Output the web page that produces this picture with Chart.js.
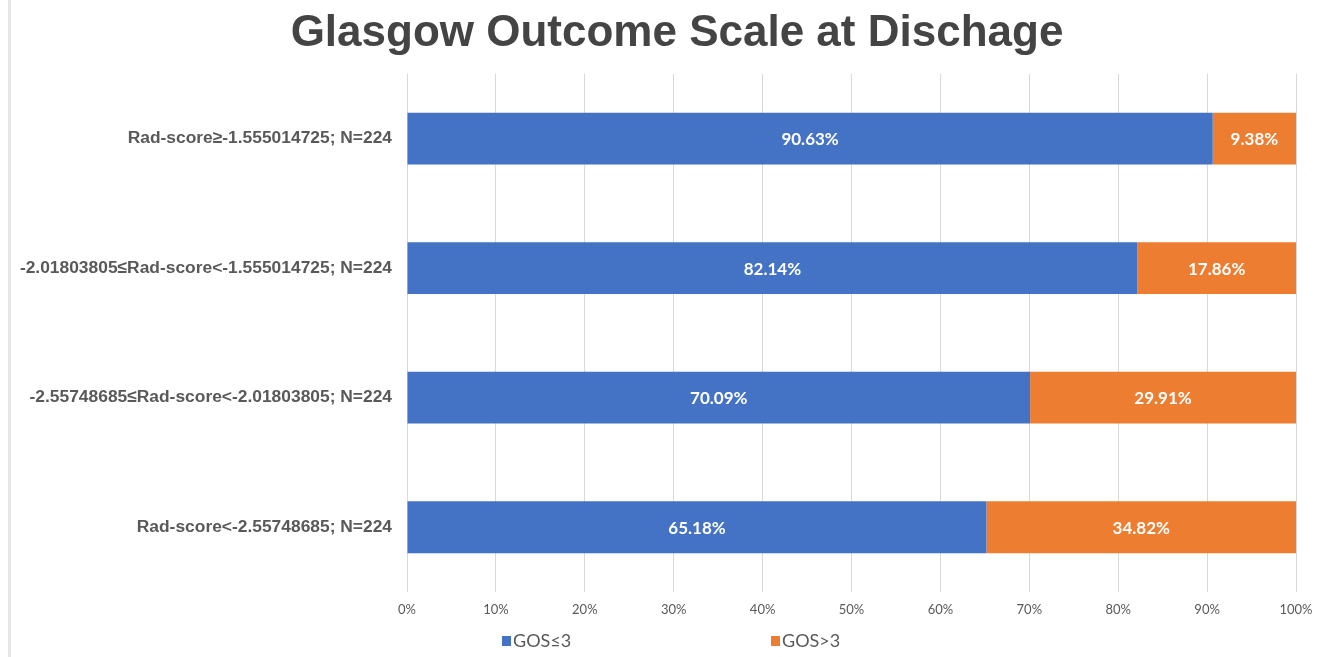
<!DOCTYPE html>
<html>
<head>
<meta charset="utf-8">
<script src="https://cdn.jsdelivr.net/npm/chart.js@4/dist/chart.umd.min.js"></script>
<style>
  html, body { margin: 0; padding: 0; background: #ffffff; }
  #wrap { width: 1325px; height: 657px; }
</style>
</head>
<body>
<div id="wrap"><canvas id="gos" width="1325" height="657"></canvas></div>
<script>
// Rad-score groups, listed top to bottom
const groups = [
  'Rad-score\u2265-1.555014725; N=224',
  '-2.01803805\u2264Rad-score<-1.555014725; N=224',
  '-2.55748685\u2264Rad-score<-2.01803805; N=224',
  'Rad-score<-2.55748685; N=224'
];
// share of patients (%) in each outcome class
const gosLow = [90.63, 82.14, 70.09, 65.18];
const gosHigh = [9.38, 17.86, 29.91, 34.82];
const seriesNames = ['GOS\u22643', 'GOS>3'];
const axisTicks = [0, 10, 20, 30, 40, 50, 60, 70, 80, 90, 100];

const BLUE = '#4472C4';
const ORANGE = '#ED7D31';

// thin frame on the left side of the chart
const frameLine = {
  id: 'frameLine',
  beforeDraw(chart) {
    const ctx = chart.ctx;
    ctx.save();
    ctx.fillStyle = '#e6e6e6';
    ctx.fillRect(8, 0, 3, chart.height);
    ctx.restore();
  }
};

// let the long category names use the space left of the axis box
const wideCategoryLabels = {
  id: 'wideCategoryLabels',
  afterLayout(chart) {
    chart.scales.y.left = 0;
  }
};

// percentage written inside each bar segment
const segmentLabels = {
  id: 'segmentLabels',
  afterDatasetsDraw(chart) {
    const ctx = chart.ctx;
    ctx.save();
    ctx.font = 'bold 17px Lato, "Open Sans", sans-serif';
    ctx.fillStyle = '#ffffff';
    ctx.textAlign = 'center';
    ctx.textBaseline = 'middle';
    chart.data.datasets.forEach((ds, di) => {
      chart.getDatasetMeta(di).data.forEach((bar, i) => {
        const p = bar.getCenterPoint();
        ctx.fillText(ds.data[i].toFixed(2) + '%', p.x, p.y + 1);
      });
    });
    ctx.restore();
  }
};

// series key under the axis
const seriesKey = {
  id: 'seriesKey',
  afterDraw(chart) {
    const ctx = chart.ctx;
    const area = chart.chartArea;
    const startX = area.left + 95;
    const step = 269;
    const y = 641;
    ctx.save();
    ctx.font = '18px Lato, "Open Sans", sans-serif';
    ctx.textBaseline = 'middle';
    ctx.textAlign = 'left';
    chart.data.datasets.forEach((ds, i) => {
      const x = startX + i * step;
      ctx.fillStyle = ds.backgroundColor;
      ctx.fillRect(x, y - 5, 9, 10);
      ctx.fillStyle = '#595959';
      ctx.fillText(ds.label, x + 11, y);
    });
    ctx.restore();
  }
};

new Chart(document.getElementById('gos'), {
  type: 'bar',
  data: {
    labels: groups,
    datasets: [
      { label: seriesNames[0], data: gosLow, backgroundColor: BLUE },
      { label: seriesNames[1], data: gosHigh, backgroundColor: ORANGE }
    ]
  },
  options: {
    indexAxis: 'y',
    responsive: false,
    animation: false,
    layout: { padding: { left: 58, right: 29, top: 0, bottom: 35 } },
    datasets: { bar: { categoryPercentage: 1, barPercentage: 0.4 } },
    plugins: {
      legend: { display: false },
      tooltip: { enabled: false },
      title: {
        display: true,
        text: 'Glasgow Outcome Scale at Dischage',
        color: '#444444',
        font: { family: '"Liberation Sans", Arial, sans-serif', size: 44, weight: 'bold', lineHeight: 1.2 },
        padding: { top: 7, bottom: 14 }
      }
    },
    scales: {
      x: {
        stacked: true,
        min: 0,
        max: 100,
        afterBuildTicks(scale) { scale.ticks = axisTicks.map(v => ({ value: v })); },
        afterFit(scale) { scale.height = 30; },
        grid: { color: '#d9d9d9', lineWidth: 1, drawTicks: false },
        border: { display: false },
        ticks: {
          padding: 10,
          color: '#595959',
          font: { family: 'Lato, "Open Sans", sans-serif', size: 13 },
          callback: v => v + '%'
        }
      },
      y: {
        stacked: true,
        afterFit(scale) { scale.width = 349; },
        grid: { display: false, drawTicks: false },
        border: { display: false },
        ticks: {
          padding: 15,
          autoSkip: false,
          color: '#595959',
          font: { family: '"Liberation Sans", Arial, sans-serif', size: 17.4, weight: 'bold' }
        }
      }
    }
  },
  plugins: [frameLine, wideCategoryLabels, segmentLabels, seriesKey]
});
</script>
</body>
</html>
